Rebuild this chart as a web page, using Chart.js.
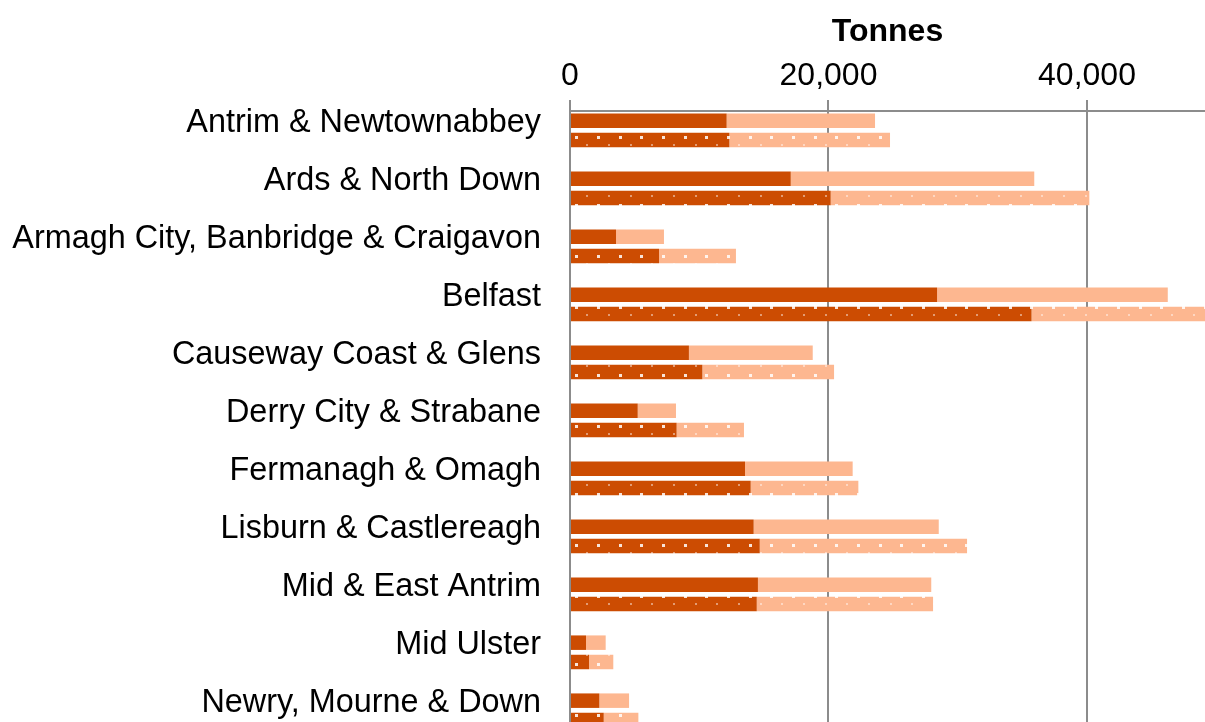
<!DOCTYPE html>
<html>
<head>
<meta charset="utf-8">
<script src="https://cdn.jsdelivr.net/npm/chart.js@4.4.1/dist/chart.umd.min.js"></script>
<style>
  html, body { margin:0; padding:0; background:#fff; overflow:hidden; }
  #wrap { width:1205px; height:722px; overflow:hidden; }
  #chart { display:block; }
</style>
</head>
<body>
<div id="wrap"><canvas id="chart" width="1205" height="760"></canvas></div>
<script>
// councils, top to bottom
const categories = [
    "Antrim & Newtownabbey",
    "Ards & North Down",
    "Armagh City, Banbridge & Craigavon",
    "Belfast",
    "Causeway Coast & Glens",
    "Derry City & Strabane",
    "Fermanagh & Omagh",
    "Lisburn & Castlereagh",
    "Mid & East Antrim",
    "Mid Ulster",
    "Newry, Mourne & Down"
];

// upper (plain) bar of each pair, tonnes
const topDark  = [12120, 17080, 3560, 28400, 9200, 5240, 13540, 14210, 14540, 1240, 2270];
const topLight = [11480, 18840, 3710, 17850, 9580, 2960, 8330, 14320, 13410, 1520, 2300];

// lower (dotted) bar of each pair, tonnes
const bottomDark  = [12330, 20170, 6890, 35710, 10240, 8250, 13980, 14680, 14450, 1470, 2610];
const bottomLight = [12430, 20010, 5950, 15790, 10190, 5210, 8330, 16040, 13640, 1880, 2680];

// empty third slot under each pair
const spacer = [null, null, null, null, null, null, null, null, null, null, null];

const xTicks = [0, 20000, 40000];
const xMax = 49130;

const DARK = "#CC4C02";
const LIGHT = "#FDB790";
const GRID = "#8c8c8c";

Chart.defaults.font.family = "'Liberation Sans', Arial, sans-serif";
Chart.defaults.color = "#000";

const ctx = document.getElementById("chart").getContext("2d");

// white dot fill like the excel pattern
function dotPattern(base){
    const c = document.createElement("canvas");
    c.width = 65; c.height = 17;
    const g = c.getContext("2d");
    g.fillStyle = base;
    g.fillRect(0, 0, 65, 17);
    g.fillStyle = "rgba(255,255,255,0.85)";
    [12, 34, 55].forEach(x => g.fillRect(x, 0, 3, 3));
    g.fillStyle = "rgba(255,255,255,0.45)";
    [1, 23, 45].forEach(x => g.fillRect(x, 8, 2, 2));
    return ctx.createPattern(c, "repeat");
}

new Chart(ctx, {
    type: "bar",
    data: {
        labels: categories,
        datasets: [
            {label: "top dark", data: topDark, backgroundColor: DARK, stack: "a"},
            {label: "top light", data: topLight, backgroundColor: LIGHT, stack: "a"},
            {label: "bottom dark", data: bottomDark, backgroundColor: dotPattern(DARK), stack: "b"},
            {label: "bottom light", data: bottomLight, backgroundColor: dotPattern(LIGHT), stack: "b"},
            {label: "spacer", data: spacer, stack: "c"}
        ]
    },
    options: {
        indexAxis: "y",
        responsive: false,
        animation: false,
        barPercentage: 0.75,
        categoryPercentage: 1,
        layout: {padding: {left: 12, right: 0, top: 0, bottom: 11}},
        plugins: {legend: {display: false}, tooltip: {enabled: false}},
        scales: {
            x: {
                position: "top",
                stacked: true,
                min: 0,
                max: xMax,
                ticks: {
                    padding: 5,
                    maxRotation: 0,
                    autoSkip: false,
                    font: {size: 32},
                    callback: v => v.toLocaleString("en-US")
                },
                afterBuildTicks: a => { a.ticks = xTicks.map(v => ({value: v})); },
                grid: {color: GRID, lineWidth: 2, tickLength: 11, drawTicks: true},
                border: {display: true, color: GRID, width: 2},
                title: {display: true, text: "Tonnes", font: {size: 32, weight: "bold"}, padding: {top: 13, bottom: 0}},
                afterFit: a => { a.height = 111; a.paddingLeft = 0; a.paddingRight = 0; }
            },
            y: {
                stacked: true,
                grid: {display: false, drawTicks: false},
                border: {display: true, color: GRID, width: 2},
                ticks: {font: {size: 32.4}, padding: 29, labelOffset: -17, autoSkip: false},
                afterFit: a => { a.width = 558; a.paddingTop = 0; a.paddingBottom = 0; }
            }
        }
    }
});
</script>
</body>
</html>
